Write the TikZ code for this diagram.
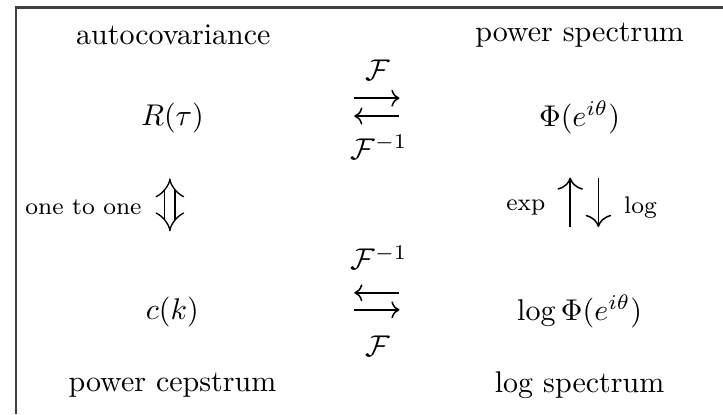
\documentclass[tikz,border=0pt]{standalone}
\usepackage{amsmath}
\usetikzlibrary{arrows.meta}
\begin{document}
\begin{tikzpicture}[
  cmarrow/.style={-{Computer Modern Rightarrow},line width=0.5pt},
  bigarrow/.style={-{Computer Modern Rightarrow[scale=1.5]},line width=0.5pt},
  lbl/.style={inner sep=1pt}]
\useasboundingbox (0,0) rectangle (8.47,4.85);
\draw[line width=0.8pt,black!75] (8.47,4.76) -- (0.19,4.76) -- (0.19,0);
% row labels
\node[lbl] (autocov) at (2.03,4.44) {autocovariance};
\node[lbl] (powspec) at (6.79,4.44) {power spectrum};
\node[lbl] (cepst) at (2.02,0.34) {power cepstrum};
\node[lbl] (logspec) at (6.79,0.34) {log spectrum};
% quantities
\node[lbl] (rtau) at (2.02,3.47) {$R(\tau)$};
\node[lbl] (phi) at (6.79,3.47) {$\Phi(e^{i\theta})$};
\node[lbl] (ck) at (2.02,1.20) {$c(k)$};
\node[lbl] (logphi) at (6.79,1.20) {$\log\Phi(e^{i\theta})$};
% transforms, top
\node[lbl] (ftop) at (4.42,4.03) {$\mathcal{F}$};
\node[lbl] (finvtop) at (4.44,3.13) {$\mathcal{F}^{-1}$};
\coordinate (fwdA) at (4.15,3.70);
\coordinate (fwdB) at (4.68,3.70);
\coordinate (invA) at (4.68,3.49);
\coordinate (invB) at (4.15,3.49);
\draw[cmarrow] (fwdA) -- (fwdB);
\draw[cmarrow] (invA) -- (invB);
% transforms, bottom
\node[lbl] (finvbot) at (4.44,1.83) {$\mathcal{F}^{-1}$};
\node[lbl] (fbot) at (4.42,0.79) {$\mathcal{F}$};
\coordinate (cinvA) at (4.68,1.42);
\coordinate (cinvB) at (4.15,1.42);
\coordinate (cfwdA) at (4.15,1.22);
\coordinate (cfwdB) at (4.68,1.22);
\draw[cmarrow] (cinvA) -- (cinvB);
\draw[cmarrow] (cfwdA) -- (cfwdB);
% left column
\coordinate (oneT) at (1.99,2.76);
\coordinate (oneB) at (1.99,2.14);
\draw[line width=0.45pt,double,double distance=3pt,{Implies[scale=1.25]}-{Implies[scale=1.25]}] (oneB) -- (oneT);
\node[lbl,anchor=east,font=\footnotesize] (onetoone) at (1.70,2.42) {one to one};
% right column
\coordinate (expB) at (6.68,2.19);
\coordinate (expT) at (6.68,2.77);
\coordinate (logT) at (7.01,2.77);
\coordinate (logB) at (7.01,2.19);
\draw[bigarrow] (expB) -- (expT);
\draw[bigarrow] (logT) -- (logB);
\node[lbl,anchor=east,font=\footnotesize] (explbl) at (6.43,2.42) {$\exp$};
\node[lbl,anchor=west,font=\footnotesize] (loglbl) at (7.27,2.42) {$\log$};
\end{tikzpicture}
\end{document}
